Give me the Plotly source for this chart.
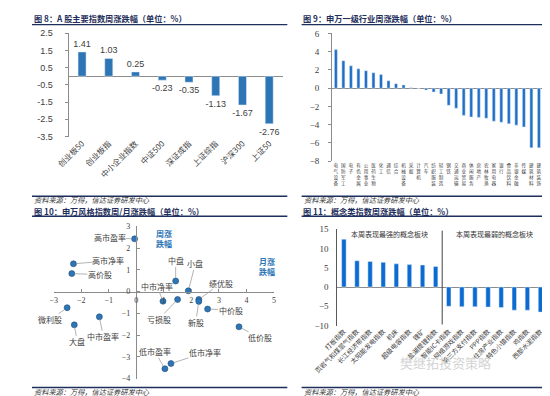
import plotly.graph_objects as go

W, H = 550, 396

# ---------------- data ----------------
idx_names = ["创业板50", "创业板指", "中小企业指数", "中证500", "深证成指", "上证综指", "沪深300", "上证50"]
idx_values = [1.41, 1.03, 0.25, -0.23, -0.35, -1.13, -1.67, -2.76]

ind_names = ["电气设备", "国防军工", "电子", "有色金属", "公用事业", "医药生物", "化工", "通信", "综合",
             "机械设备", "采掘", "计算机", "汽车", "纺织服装", "轻工制造", "钢铁", "交通运输", "商业贸易",
             "休闲服务", "房地产", "农林牧渔", "家用电器", "银行", "食品饮料", "非银金融", "传媒",
             "建筑材料", "建筑装饰"]
ind_values = [4.23, 3.02, 2.45, 2.13, 1.92, 1.70, 1.49, 0.82, 0.50, 0.36, 0.04, -0.03, -0.21, -0.43,
              -0.64, -1.88, -2.20, -2.98, -3.16, -3.20, -3.30, -3.62, -3.73, -3.90, -4.05, -4.26,
              -6.54, -6.54]

style_names = ["高市盈率", "高市净率", "高价股", "中盘", "小盘", "绩优股", "新股", "中市净率", "亏损股",
               "中价股", "低价股", "微利股", "大盘", "中市盈率", "低市盈率", "低市净率"]
style_month = [-0.06, -2.28, -2.34, 1.43, 1.89, 2.27, 2.27, 0.97, 1.50, 2.59, 3.73, -2.51, -2.25,
               -1.34, 1.04, 1.26]
style_week = [2.43, 1.28, 0.83, 0.49, 0.04, -0.36, -0.45, -0.44, -0.36, -0.80, -1.62, -0.74, -1.53,
              -1.16, -3.55, -3.31]

concept_names = ["打板指数", "页岩气和煤层气指数", "长江经济带指数", "太阳能发电指数", "机床",
                 "超级电容指数", "锂矿", "盐湖提锂指数", "智能IC卡指数", "网络游戏指数",
                 "第三方支付指数", "PPP指数", "住房产业指数", "特色小镇指数", "鸡指数", "西部水泥指数"]
concept_values = [12.4, 6.8, 6.6, 6.4, 6.0, 5.8, 5.7, 5.3, -5.0, -5.1, -5.1, -5.2, -5.3, -6.0, -6.0, -6.5]

# ---------------- helpers ----------------
def px_x(p):
    return p / W


def px_y(p):
    return 1 - p / H


NAVY = "#1F2F5C"
AXIS = "#8C8C8C"
TXT = "#404040"
CJK = "Noto Sans CJK SC"
SERIF = "Liberation Serif"

fig = go.Figure()

# Panel 8
fig.add_trace(go.Bar(
    x=idx_names, y=idx_values, xaxis="x", yaxis="y",
    marker=dict(color="#2E75B6"), width=0.3,
    text=[f"{v:.2f}" for v in idx_values], textposition="outside", constraintext="none",
    textfont=dict(size=9, color=TXT, family="Liberation Sans"), cliponaxis=False,
    showlegend=False,
))

# Panel 9
fig.add_trace(go.Bar(
    x=ind_names, y=ind_values, xaxis="x2", yaxis="y2",
    marker=dict(color="#1F6FC6"), width=0.4, showlegend=False,
))

# Panel 10
fig.add_trace(go.Scatter(
    x=style_month, y=style_week, xaxis="x3", yaxis="y3", mode="markers",
    marker=dict(color="#2E75B6", size=6, line=dict(color="#1F4E79", width=0.6)),
    showlegend=False, cliponaxis=False,
))

# Panel 11
fig.add_trace(go.Bar(
    x=concept_names, y=concept_values, xaxis="x4", yaxis="y4",
    marker=dict(color="#0B6BD0"), width=0.34, showlegend=False,
))

layout = dict(
    width=W, height=H, margin=dict(l=0, r=0, t=0, b=0),
    paper_bgcolor="white", plot_bgcolor="white",
    font=dict(family=CJK, color=TXT),
    # panel 8
    xaxis=dict(domain=[px_x(38.5), px_x(263)], range=[-0.5, 7.5], type="category",
               showline=False, showgrid=False, zeroline=False, ticks="",
               tickangle=-45, tickfont=dict(size=8, family=CJK, color=TXT), anchor="y"),
    yaxis=dict(domain=[px_y(126.7), px_y(20.7)], range=[-3.5, 2.5],
               tickvals=[-3.5, -2.5, -1.5, -0.5, 0.5, 1.5, 2.5],
               ticktext=["-3.5", "-2.5", "-1.5", "-0.5", "0.5", "1.5", "2.5"],
               showline=True, linecolor=AXIS, linewidth=1, showgrid=False,
               zeroline=True, zerolinecolor=AXIS, zerolinewidth=1,
               ticks="outside", ticklen=3, tickcolor=AXIS, ticklabelstandoff=10,
               tickfont=dict(size=9, family="Liberation Sans", color=TXT), anchor="x"),
    # panel 9
    xaxis2=dict(domain=[px_x(315), px_x(536)], range=[-0.5, 27.5], type="category",
                showline=False, showgrid=False, zeroline=False, ticks="", tickangle=0,
                tickmode="array", tickvals=ind_names, ticktext=["<br>".join(n) for n in ind_names],
                tickfont=dict(size=4.6, family=CJK, color=TXT), anchor="y2"),
    yaxis2=dict(domain=[px_y(152), px_y(21)], range=[-8, 6], dtick=2,
                showline=True, linecolor=AXIS, linewidth=1, showgrid=False,
                zeroline=True, zerolinecolor=AXIS, zerolinewidth=1,
                ticks="outside", ticklen=3, tickcolor=AXIS, ticklabelstandoff=7,
                tickfont=dict(size=9, family=SERIF, color=TXT), anchor="x2"),
    # panel 10
    xaxis3=dict(domain=[px_x(22.7), px_x(254)], range=[-3, 5], dtick=1,
                showline=True, linecolor=AXIS, linewidth=1, showgrid=False, zeroline=False,
                ticks="inside", ticklen=3, tickcolor=AXIS, ticklabelstandoff=1,
                tickfont=dict(size=8, family=SERIF, color=TXT),
                anchor="free", position=px_y(285.9)),
    yaxis3=dict(domain=[px_y(375), px_y(219)], range=[-4, 3], dtick=1,
                showline=True, linecolor=AXIS, linewidth=1, showgrid=False, zeroline=False,
                ticks="inside", ticklen=3, tickcolor=AXIS, ticklabelstandoff=4,
                tickfont=dict(size=8, family=SERIF, color=TXT),
                anchor="free", position=px_x(109)),
    # panel 11
    xaxis4=dict(domain=[px_x(320.5), px_x(540.6)], range=[-0.5, 15.5], type="category",
                showline=False, showgrid=False, zeroline=False, ticks="", tickangle=-45,
                tickfont=dict(size=6.5, family=CJK, color=TXT), anchor="y4"),
    yaxis4=dict(domain=[px_y(320.7), px_y(221.7)], range=[-10, 15], dtick=5,
                showline=True, linecolor="#595959", linewidth=1, showgrid=False,
                zeroline=True, zerolinecolor=AXIS, zerolinewidth=1,
                ticks="", ticklabelstandoff=6,
                tickfont=dict(size=9, family=SERIF, color=TXT), anchor="x4"),
)
fig.update_layout(**layout)

annotations = []
shapes = []

# titles
titles = [
    (1, 5.5, "图 8：A 股主要指数周涨跌幅（单位：%）"),
    (283, 5.5, "图 9：申万一级行业周涨跌幅（单位：%）"),
    (1, 203.2, "图 10：申万风格指数周/月涨跌幅（单位：%）"),
    (283, 203.2, "图 11：概念类指数周涨跌幅（单位：%）"),
]
for x, y, t in titles:
    annotations.append(dict(x=px_x(x), y=px_y(y), xref="paper", yref="paper", text="<b>" + t + "</b>",
                            showarrow=False, xanchor="left", yanchor="middle", borderpad=0,
                            font=dict(size=8.2, color=NAVY, family=CJK)))

# title underlines & source lines
for x0, x1, y in [(0, 268, 12), (283, 550, 12), (0, 268, 208.5), (283, 550, 208.5),
                  (0, 268, 188), (283, 550, 188), (0, 268, 384.2), (283, 550, 384.2)]:
    shapes.append(dict(type="line", xref="paper", yref="paper", x0=px_x(x0), x1=px_x(x1),
                       y0=px_y(y), y1=px_y(y), line=dict(color=NAVY, width=1.3)))

for x, y in [(1, 192.0), (284, 192.0), (1, 388.6), (284, 388.6)]:
    annotations.append(dict(x=px_x(x), y=px_y(y), xref="paper", yref="paper",
                            text="<i>资料来源：万得，信达证券研发中心</i>", showarrow=False,
                            xanchor="left", yanchor="middle", borderpad=0,
                            font=dict(size=7.2, color="#333333", family=CJK)))

# panel 10 point labels (pixel offsets of each label from its point)
label_offsets = [(-25, -1), (35, -3), (28, 1), (0, -20), (7, -27), (22, -16), (-3, 21), (-6, -15),
                 (-19, 20), (23, 1), (21, 11), (-17, 12), (3, 17), (4, 20), (-10, -17), (34, -11)]
for name, mx, wy, (ox, oy) in zip(style_names, style_month, style_week, label_offsets):
    annotations.append(dict(x=mx, y=wy, xref="x3", yref="y3", text=name, showarrow=True,
                            arrowhead=0, arrowwidth=0.8, arrowcolor="#A0A0A0", ax=ox, ay=oy,
                            standoff=3, borderpad=0, font=dict(size=8, color=TXT, family=CJK)))

# panel 10 axis titles
annotations.append(dict(x=px_x(128), y=px_y(231), xref="paper", yref="paper", text="<b>周涨<br>跌幅</b>",
                        showarrow=False, font=dict(size=8, color="#2E75B6", family=CJK)))
annotations.append(dict(x=px_x(247), y=px_y(273), xref="paper", yref="paper", text="<b>月涨<br>跌幅</b>",
                        showarrow=False, font=dict(size=8, color="#2E75B6", family=CJK)))

# panel 11 separator and group labels
shapes.append(dict(type="line", xref="x4", yref="y4", x0=7.5, x1=7.5, y0=-9.7, y1=14.6,
                   line=dict(color="#404040", width=1)))
annotations.append(dict(x=3.5, y=px_y(226.7), xref="x4", yref="paper", text="本周表现最强的概念板块",
                        showarrow=False, font=dict(size=7, color="#333333", family=CJK)))
annotations.append(dict(x=11.5, y=px_y(226.7), xref="x4", yref="paper", text="本周表现最弱的概念板块",
                        showarrow=False, font=dict(size=7, color="#333333", family=CJK)))

# watermark
annotations.append(dict(x=px_x(484), y=px_y(370), xref="paper", yref="paper", text="樊继拓投资策略",
                        showarrow=False, font=dict(size=13, color="#D4D4D4", family=CJK)))

fig.update_layout(annotations=annotations, shapes=shapes)
fig.write_html("out.html")
